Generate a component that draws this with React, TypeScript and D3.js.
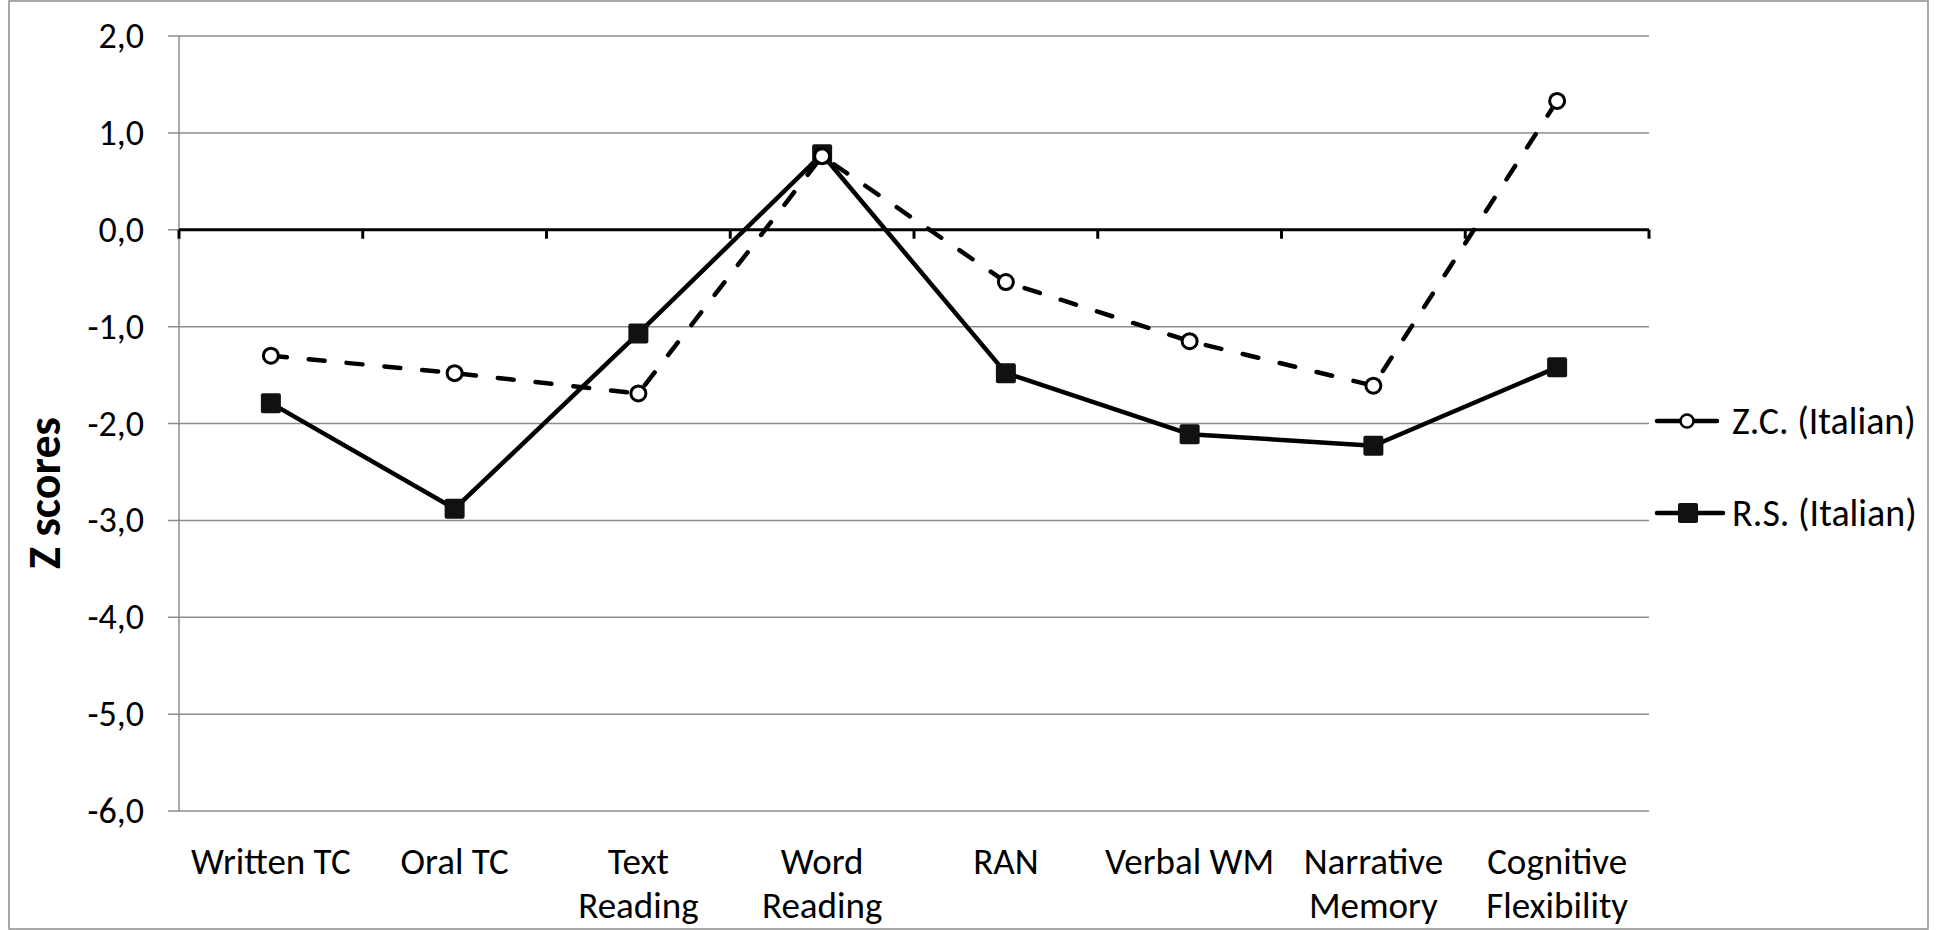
import React from "react";
import * as d3 from "d3";

const categories = [
  "Written TC",
  "Oral TC",
  "Text Reading",
  "Word Reading",
  "RAN",
  "Verbal WM",
  "Narrative Memory",
  "Cognitive Flexibility",
];
const categoryLines = [
  ["Written TC"],
  ["Oral TC"],
  ["Text", "Reading"],
  ["Word", "Reading"],
  ["RAN"],
  ["Verbal WM"],
  ["Narrative", "Memory"],
  ["Cognitive", "Flexibility"],
];
const zcValues = [-1.3, -1.48, -1.69, 0.76, -0.54, -1.15, -1.61, 1.33];
const rsValues = [-1.79, -2.88, -1.07, 0.78, -1.48, -2.11, -2.23, -1.42];
const yTicks = [2, 1, 0, -1, -2, -3, -4, -5, -6];
const seriesNames = ["Z.C. (Italian)", "R.S. (Italian)"];

const W = 1943;
const H = 930;
const FONT = "Carlito, Lato, 'Open Sans', sans-serif";

export default function App() {
  const x = d3.scaleBand<string>().domain(categories).range([179, 1649]).paddingInner(0).paddingOuter(0);
  const y = d3.scaleLinear().domain([-6, 2]).range([811, 36]);
  const cx = (c: string) => (x(c) as number) + x.bandwidth() / 2;
  const line = d3
    .line<number>()
    .x((_, i) => cx(categories[i]))
    .y((d) => y(d));
  const fmt = (v: number) => v.toFixed(1).replace(".", ",");
  const boundaries = d3.range(categories.length + 1).map((i) => 179 + i * x.bandwidth());
  const grid = "#8c8c8c";
  const sq = 20;

  return (
    <svg
      width={W}
      height={H}
      style={{ position: "absolute", left: 0, top: 0, background: "#fff" }}
      fontFamily={FONT}
    >
      <rect x={0} y={0} width={W} height={H} fill="#fff" />
      <rect x={9} y={1} width={1919} height={928} fill="none" stroke={grid} strokeWidth={1.5} />
      {/* gridlines */}
      {yTicks.map((t) => (
        <line
          key={"g" + t}
          x1={168}
          x2={1649}
          y1={y(t)}
          y2={y(t)}
          stroke={grid}
          strokeWidth={1.5}
        />
      ))}
      {/* y axis line */}
      <line x1={179} x2={179} y1={y(2)} y2={y(-6)} stroke={grid} strokeWidth={1.5} />
      {/* zero axis */}
      <line x1={179} x2={1649} y1={y(0)} y2={y(0)} stroke="#000" strokeWidth={3} />
      {boundaries.map((bx, i) => (
        <line key={"tk" + i} x1={bx} x2={bx} y1={y(0)} y2={y(0) + 9} stroke="#000" strokeWidth={3} />
      ))}
      {/* y tick labels */}
      {yTicks.map((t) => (
        <text
          key={"yl" + t}
          x={144}
          y={y(t)}
          textAnchor="end"
          dominantBaseline="central"
          fontSize={36}
          fill="#000"
        >
          {fmt(t)}
        </text>
      ))}
      {/* y title */}
      <text
        transform={`translate(44,493) rotate(-90)`}
        textAnchor="middle"
        dominantBaseline="central"
        fontSize={46}
        fontWeight="bold"
        fill="#000"
      >
        Z scores
      </text>
      {/* category labels */}
      {categories.map((c, i) => (
        <text key={"c" + i} textAnchor="middle" fontSize={37} fill="#000">
          {categoryLines[i].map((ln, j) => (
            <tspan key={j} x={cx(c)} y={874 + j * 44}>
              {ln}
            </tspan>
          ))}
        </text>
      ))}
      {/* series lines */}
      <path
        d={line(rsValues) as string}
        fill="none"
        stroke="#000"
        strokeWidth={4.5}
        strokeLinejoin="round"
        strokeLinecap="round"
      />
      <path
        d={line(zcValues) as string}
        fill="none"
        stroke="#000"
        strokeWidth={4.5}
        strokeLinecap="round"
        strokeDasharray="16 22"
      />
      {rsValues.map((v, i) => (
        <rect
          key={"rs" + i}
          x={cx(categories[i]) - sq / 2}
          y={y(v) - sq / 2}
          width={sq}
          height={sq}
          rx={2}
          fill="#111"
        />
      ))}
      {zcValues.map((v, i) => (
        <circle key={"zc" + i} cx={cx(categories[i])} cy={y(v)} r={7.5} fill="#fff" stroke="#000" strokeWidth={3} />
      ))}
      {/* legend */}
      <g>
        <line x1={1657} x2={1717} y1={421} y2={421} stroke="#000" strokeWidth={4.5} strokeLinecap="round" />
        <circle cx={1687} cy={421} r={6.5} fill="#fff" stroke="#000" strokeWidth={2.5} />
        <text x={1732} y={421} dominantBaseline="central" fontSize={38} fill="#000">
          {seriesNames[0]}
        </text>
        <line x1={1657} x2={1723} y1={513} y2={513} stroke="#000" strokeWidth={4.5} strokeLinecap="round" />
        <rect x={1688 - 10} y={513 - 10} width={20} height={20} rx={2} fill="#111" />
        <text x={1732} y={513} dominantBaseline="central" fontSize={38} fill="#000">
          {seriesNames[1]}
        </text>
      </g>
    </svg>
  );
}
